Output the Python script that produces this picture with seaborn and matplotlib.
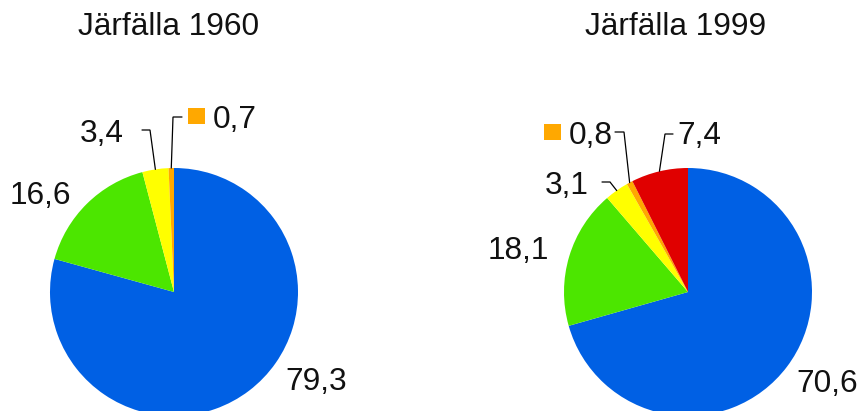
import numpy as np
import matplotlib
matplotlib.use("Agg")
import matplotlib.pyplot as plt
import seaborn as sns

# ---- data ----
titles = ["Järfälla 1960", "Järfälla 1999"]
values_1960 = [79.3, 16.6, 3.4, 0.7]
values_1999 = [70.6, 18.1, 3.1, 0.8, 7.4]
labels_1960 = ["79,3", "16,6", "3,4", "0,7"]
labels_1999 = ["70,6", "18,1", "3,1", "0,8", "7,4"]
colors_1960 = ["#0060E4", "#4CE600", "#FFFF00", "#FFA800"]
colors_1999 = ["#0060E4", "#4CE600", "#FFFF00", "#FFA800", "#E00000"]

sns.set_theme(style="white")
plt.rcParams['font.family'] = ['Liberation Sans', 'DejaVu Sans']

W, H = 864, 411
fig = plt.figure(figsize=(W / 100, H / 100), dpi=100)
ax = fig.add_axes([0, 0, 1, 1])

def Y(p):
    return H - p

FS = 22.8
R = 124

pies = [
    dict(values=values_1960, labels=labels_1960, colors=colors_1960, title=titles[0],
         center=(174, 292), title_xy=(169, 27),
         lab=[(316, 382, 'center'), (40, 196, 'center'), (102, 134, 'center'), (213, 120, 'left')],
         lead=[None, None, (150, 130, 142), (173, 117, 182)],
         key=[None, None, None, (188, 108)]),
    dict(values=values_1999, labels=labels_1999, colors=colors_1999, title=titles[1],
         center=(688, 292), title_xy=(676, 27),
         lab=[(827, 384, 'center'), (518, 251, 'center'), (567, 186, 'center'),
              (569, 136, 'left'), (677, 136, 'left')],
         lead=[None, None, (610, 182, 602), (624, 132, 615), (665, 134, 673)],
         key=[None, None, None, (544, 124), None]),
]

for p in pies:
    cx, cy = p['center']
    wedges, _ = ax.pie(p['values'], colors=p['colors'], startangle=90, counterclock=False,
                       center=(cx, Y(cy)), radius=R, wedgeprops=dict(linewidth=0))
    ax.text(p['title_xy'][0], Y(p['title_xy'][1]), p['title'], fontsize=FS,
            ha='center', va='center', color='#111111')
    for i, w in enumerate(wedges):
        lx, ly, ha = p['lab'][i]
        ax.text(lx, Y(ly), p['labels'][i], fontsize=FS, ha=ha, va='center', color='#111111')
        if p['lead'][i] is not None:
            ex, ey, endx = p['lead'][i]
            mid = np.deg2rad((w.theta1 + w.theta2) / 2)
            px = cx + R * np.cos(mid)
            py = Y(cy) + R * np.sin(mid)
            ax.plot([px, ex, endx], [py, Y(ey), Y(ey)], color='black', lw=0.9,
                    solid_joinstyle='miter')
        if p['key'][i] is not None:
            kx, ky = p['key'][i]
            ax.add_patch(plt.Rectangle((kx, Y(ky) - 16), 17, 16, color=p['colors'][i], lw=0))

ax.set_xlim(0, W)
ax.set_ylim(0, H)
ax.set_aspect('equal')
ax.axis('off')
fig.savefig("out.png", dpi=100)
